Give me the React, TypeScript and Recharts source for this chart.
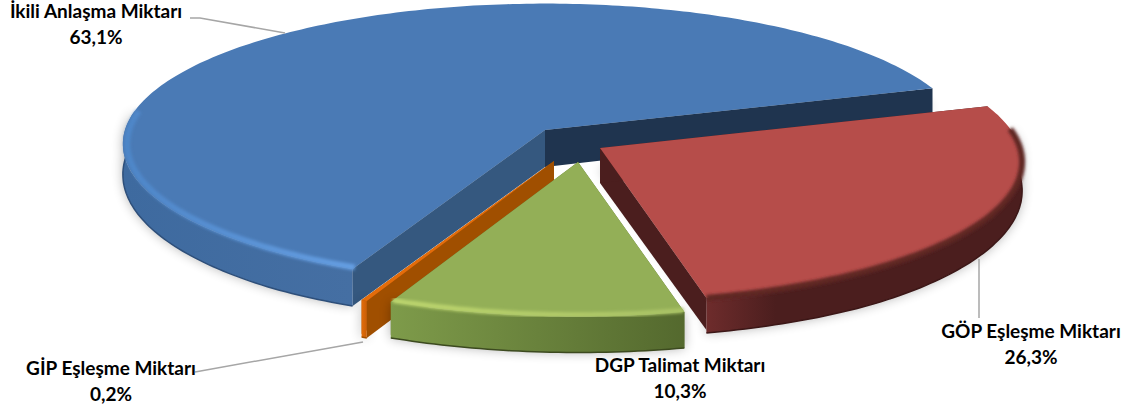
import { PieChart, Pie } from 'recharts';

// values as printed on the chart, counter-clockwise from the back right
const categories = [
  'İkili Anlaşma Miktarı',
  'GİP Eşleşme Miktarı',
  'DGP Talimat Miktarı',
  'GÖP Eşleşme Miktarı',
];
const shares = [63.1, 0.2, 10.3, 26.3];

const tableData = categories.map((name, i) => ({ name, value: shares[i] }));

// perspective of the tilted disc
const TILT = 0.331;
const PERSPECTIVE = 0.1;
const RAD = Math.PI / 180;

const sliceStyles: Record<string, any> = {
  'İkili Anlaşma Miktarı': {
    id: 'blue', dx: 0, dy: 0, depth: 37, top: '#4A7AB5', band: ['#4E86C8', '#659EE2'], bandWidth: 6, bandAt: 0.99,
    wall: ['#3E6A9F', '#456FA3'], wallStop: 100, edge: '#2E4F7A', startWall: '#1F344F', endWall: '#35587F',
  },
  'GİP Eşleşme Miktarı': {
    id: 'orange', dx: 9, dy: 31, depth: 37, top: '#E46C0A', band: ['#E46C0A', '#E46C0A'], bandWidth: 0, bandAt: 1,
    wall: ['#E36C09', '#C85F08'], wallStop: 100, edge: '#A04F00', startWall: '#A04F00', endWall: '#A04F00',
  },
  'DGP Talimat Miktarı': {
    id: 'green', dx: 33, dy: 32, depth: 36, top: '#93AF57', band: ['#BDD66E', '#A9C265'], bandWidth: 5, bandAt: 0.99,
    wall: ['#7E9B4A', '#54692E'], wallStop: 100, edge: '#3C4A1F', startWall: '#5F7635', endWall: '#5F7635',
  },
  'GÖP Eşleşme Miktarı': {
    id: 'red', dx: 55, dy: 18, depth: 35, top: '#B64D4A', band: ['#5E2524', '#5E2524'], bandWidth: 6, bandAt: 1,
    wall: ['#6E2C2C', '#4B1E1E'], wallStop: 22, edge: '#3C1717', startWall: '#4B1E1E', endWall: '#4B1E1E',
  },
};

const labelLayout: Record<string, any> = {
  'İkili Anlaşma Miktarı': { x: 96, y: 18, line: '190,18 200,18 285,33' },
  'GİP Eşleşme Miktarı': { x: 111, y: 375, line: '195,372 363,342' },
  'DGP Talimat Miktarı': { x: 680, y: 372, line: '' },
  'GÖP Eşleşme Miktarı': { x: 1031, y: 338, line: '979,259 979,318' },
};

const project = (angle: number, radius: number, r = 1) => {
  const u = r * Math.cos(angle * RAD);
  const v = -r * Math.sin(angle * RAD);
  const w = 1 - PERSPECTIVE * v;
  return [(radius * u) / w, (radius * TILT * v) / w];
};

const arcAngles = (from: number, to: number) => {
  const steps = Math.max(2, Math.ceil(to - from));
  const angles: number[] = [];
  for (let i = 0; i <= steps; i++) angles.push(from + ((to - from) * i) / steps);
  return angles;
};

const arcPoints = (from: number, to: number, radius: number, r = 1) =>
  arcAngles(from, to).map((a) => project(a, radius, r));

// the rim looks thinner at the sides than at the front
const rimPoints = (from: number, to: number, radius: number, depth: number) =>
  arcAngles(from, to).map((a) => {
    const p = project(a, radius);
    const factor = Math.min(1, 0.8 - 0.25 * Math.sin(a * RAD));
    return [p[0], p[1] + depth * factor];
  });

const toPath = (pts: number[][], close = true) =>
  'M' + pts.map((p) => `${p[0].toFixed(1)},${p[1].toFixed(1)}`).join('L') + (close ? 'Z' : '');

const ExplodedSlice = (props: any) => {
  const { cx, cy, outerRadius, startAngle, endAngle, name } = props;
  const s = sliceStyles[name];
  const from = Math.min(startAngle, endAngle);
  const to = Math.max(startAngle, endAngle);
  const arc = arcPoints(from, to, outerRadius);
  const apex = [0, 0];

  // rim wall and rounded edge only exist on the half that faces the viewer
  const frontFrom = Math.max(from, 172);
  const frontTo = Math.min(to, 368);
  const frontArc = arcPoints(frontFrom, frontTo, outerRadius);
  const rimBottom = rimPoints(frontFrom, frontTo, outerRadius, s.depth);

  const surface = toPath([apex, ...arc]);
  const wall = toPath([...frontArc, ...[...rimBottom].reverse()]);
  const first = arc[0];
  const last = arc[arc.length - 1];
  const startSide = toPath([apex, first, [first[0], first[1] + s.depth * 0.92], [0, s.depth]]);
  const endSide = toPath([apex, last, [last[0], last[1] + s.depth], [0, s.depth]]);

  return (
    <g transform={`translate(${cx + s.dx},${cy + s.dy})`}>
      <defs>
        <linearGradient id={`wall-${s.id}`} x1="0" y1="0" x2="1" y2="0">
          <stop offset="0%" stopColor={s.wall[0]} />
          <stop offset={`${s.wallStop}%`} stopColor={s.wall[1]} />
        </linearGradient>
        <linearGradient id={`band-${s.id}`} x1="0" y1="0" x2="1" y2="0">
          <stop offset="0%" stopColor={s.band[0]} />
          <stop offset="100%" stopColor={s.band[1]} />
        </linearGradient>
      </defs>
      <g filter="url(#softShadow)" opacity={0.3} fill="#000">
        <path d={wall} />
        <path d={surface} transform="translate(0,20)" />
      </g>
      <path d={startSide} fill={s.startWall} />
      <path d={endSide} fill={s.endWall} />
      <path d={wall} fill={`url(#wall-${s.id})`} />
      <path d={toPath(rimBottom, false)} fill="none" stroke={s.edge} strokeWidth={1.5} />
      <path d={surface} fill={s.top} />
      {s.bandWidth > 0 && (
        <path
          d={toPath(arcPoints(frontFrom, frontTo, outerRadius, s.bandAt), false)}
          fill="none"
          stroke={`url(#band-${s.id})`}
          strokeWidth={s.bandWidth}
          filter="url(#rimBlur)"
        />
      )}
    </g>
  );
};

const SliceLabel = (props: any) => {
  const { name, value } = props;
  const place = labelLayout[name];
  return (
    <g>
      {place.line && (
        <polyline points={place.line} fill="none" stroke="#A6A6A6" strokeWidth={1.5} />
      )}
      <text
        textAnchor="middle"
        fontFamily="Lato, sans-serif"
        fontWeight={700}
        fontSize={19}
        fill="#000"
      >
        <tspan x={place.x} y={place.y}>{name}</tspan>
        <tspan x={place.x} y={place.y + 26}>{`${Number(value).toFixed(1).replace('.', ',')}%`}</tspan>
      </text>
    </g>
  );
};

export default function App() {
  return (
    <div style={{ position: 'absolute', left: 0, top: 0, width: 1128, height: 409 }}>
      <PieChart width={1128} height={409} margin={{ top: 0, right: 0, bottom: 0, left: 0 }}>
        <defs>
          <filter id="softShadow" x="-10%" y="-20%" width="120%" height="140%">
            <feGaussianBlur stdDeviation="6" />
          </filter>
          <filter id="rimBlur" x="-5%" y="-10%" width="110%" height="120%">
            <feGaussianBlur stdDeviation="1.4" />
          </filter>
        </defs>
        <Pie
          data={tableData}
          dataKey="value"
          nameKey="name"
          cx={545}
          cy={130}
          innerRadius={0}
          outerRadius={420}
          startAngle={18}
          endAngle={378}
          paddingAngle={0}
          stroke="none"
          shape={ExplodedSlice}
          label={SliceLabel}
          labelLine={false}
          isAnimationActive={false}
        />
      </PieChart>
    </div>
  );
}
